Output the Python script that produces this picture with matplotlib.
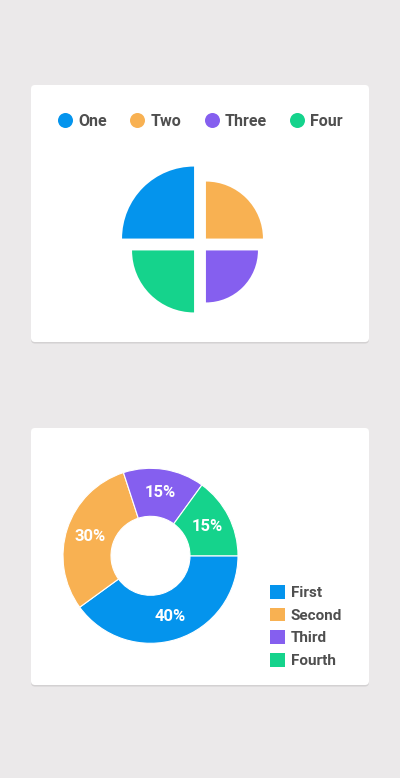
import matplotlib
matplotlib.use('Agg')
import matplotlib.pyplot as plt
from matplotlib.patches import FancyBboxPatch, Wedge, Patch
from matplotlib.lines import Line2D
import numpy as np

plt.rcParams['font.family'] = ['Roboto', 'DejaVu Sans']

# ---- data ----
polar_labels = ['One', 'Two', 'Three', 'Four']
polar_values = [18, 14.25, 13, 15.5]
polar_colors = ['#0494ED', '#F8B152', '#855FEF', '#15D38C']

donut_labels = ['First', 'Second', 'Third', 'Fourth']
donut_values = [40, 30, 15, 15]
donut_colors = ['#0494ED', '#F8B152', '#855FEF', '#15D38C']

TEXT = '#4F4F4F'
W, H = 400, 778
fig = plt.figure(figsize=(W / 100, H / 100), dpi=100)
fig.patch.set_facecolor('#EBE9EA')

bg = fig.add_axes([0, 0, 1, 1])
bg.set_xlim(0, W)
bg.set_ylim(H, 0)
bg.axis('off')
for (x0, y0, x1, y1) in [(31, 85, 369, 342), (31, 428, 369, 685)]:
    bg.add_patch(FancyBboxPatch((x0, y0 + 1.5), x1 - x0, y1 - y0,
                                boxstyle='round,pad=0,rounding_size=4',
                                fc='#D3D1D2', ec='none'))
    bg.add_patch(FancyBboxPatch((x0, y0), x1 - x0, y1 - y0,
                                boxstyle='round,pad=0,rounding_size=4',
                                fc='white', ec='none'))


def px_axes(cx, cy, half):
    return fig.add_axes([(cx - half) / W, 1 - (cy + half) / H,
                         2 * half / W, 2 * half / H])


# ---- polar area chart ----
ax1 = px_axes(200, 244.5, 100)
ax1.set_xlim(-25, 25)
ax1.set_ylim(-25, 25)
ax1.set_aspect('equal')
ax1.axis('off')
n = len(polar_values)
step = 360 / n
offset = 2.1
for i, (v, c) in enumerate(zip(polar_values, polar_colors)):
    t2 = 180 - step * i
    t1 = t2 - step
    mid = np.deg2rad((t1 + t2) / 2)
    ctr = (offset * np.cos(mid), offset * np.sin(mid))
    ax1.add_patch(Wedge(ctr, v, t1, t2, fc=c, ec='none'))

handles1 = [Line2D([], [], marker='o', ls='', ms=10.8, mfc=c, mec='none')
            for c in polar_colors]
leg1 = fig.legend(handles1, polar_labels, loc='center',
                  bbox_to_anchor=(200 / W, 1 - 121 / H), ncol=4, frameon=False,
                  handlelength=1.0, handletextpad=0.3, columnspacing=1.42,
                  borderpad=0, borderaxespad=0,
                  prop={'size': 11.5, 'weight': 'bold'})
for t in leg1.get_texts():
    t.set_color(TEXT)

# ---- doughnut chart ----
ax2 = px_axes(150.5, 555.8, 100)
lim = 100 / 87.5
ax2.set_xlim(-lim, lim)
ax2.set_ylim(-lim, lim)
ax2.set_aspect('equal')
ax2.axis('off')
ax2.pie(donut_values, colors=donut_colors, startangle=0, counterclock=False,
        radius=1, autopct=lambda p: f'{p:.0f}%', pctdistance=0.73,
        wedgeprops=dict(width=1 - 39.5 / 87.5, edgecolor='white', linewidth=0.8),
        textprops=dict(color='white', fontsize=12, fontweight='bold'))
ax2.set_xlim(-lim, lim)
ax2.set_ylim(-lim, lim)

handles2 = [Patch(fc=c, ec='none') for c in donut_colors]
leg2 = fig.legend(handles2, donut_labels, loc='upper left',
                  bbox_to_anchor=(270 / W, 1 - 585 / H), frameon=False,
                  handlelength=1.0, handleheight=1.0, handletextpad=0.35,
                  labelspacing=0.5, borderpad=0, borderaxespad=0,
                  prop={'size': 11, 'weight': 'bold'})
for t in leg2.get_texts():
    t.set_color(TEXT)

fig.savefig('out.png', dpi=100, facecolor=fig.get_facecolor())
